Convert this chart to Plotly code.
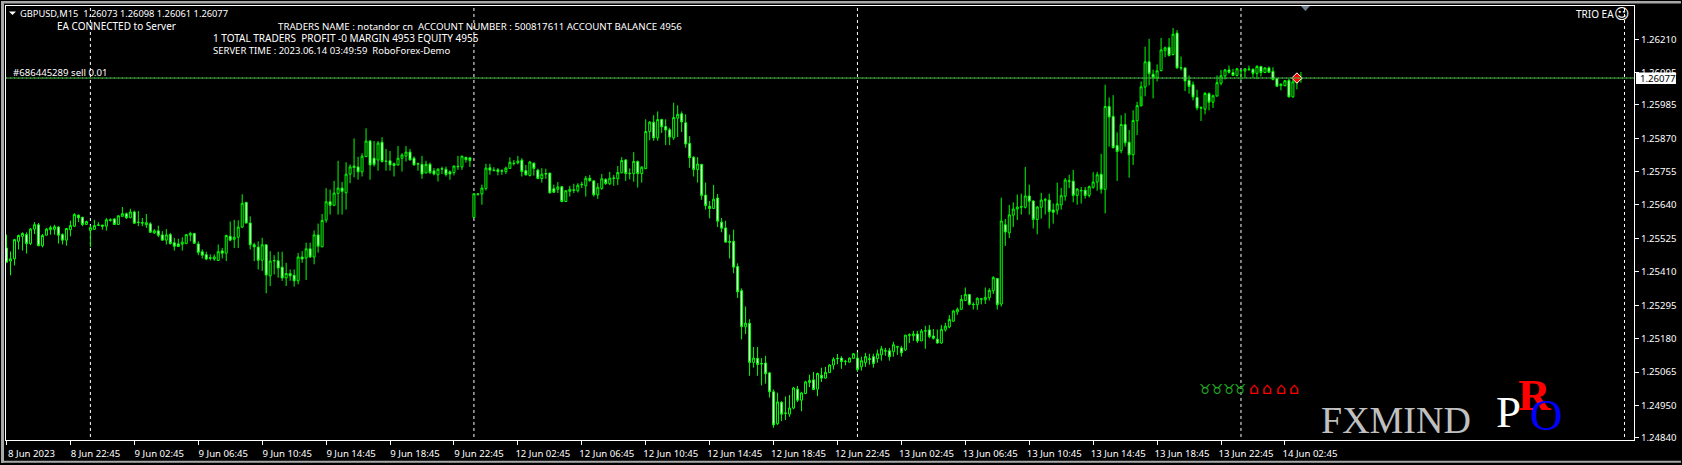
"""
GBPUSD M15 terminal chart
"""
import plotly.graph_objects as go

# prices in points (1.26077 -> 126077), one row = 10 bars
open_pts = [
    125492,125447,125455,125515,125532,125538,125507,125557,125572,125500,
    125536,125555,125556,125564,125538,125519,125555,125567,125605,125598,
    125573,125553,125556,125570,125571,125567,125587,125592,125573,125601,
    125610,125596,125616,125581,125579,125572,125575,125544,125551,125537,
    125519,125538,125510,125506,125505,125507,125536,125542,125506,125479,
    125469,125458,125454,125449,125482,125474,125532,125522,125529,125564,
    125649,125578,125503,125495,125450,125503,125396,125449,125448,125426,
    125389,125404,125398,125379,125461,125458,125489,125461,125537,125496,
    125588,125651,125639,125680,125698,125682,125746,125769,125771,125754,
    125807,125860,125801,125795,125856,125791,125792,125782,125778,125801,
    125809,125822,125801,125782,125780,125750,125780,125757,125744,125765,
    125763,125754,125752,125773,125771,125804,125802,125597,125678,125678,
    125697,125768,125760,125761,125758,125755,125766,125784,125785,125794,
    125758,125742,125784,125760,125731,125748,125750,125696,125694,125703,
    125652,125687,125692,125689,125711,125706,125732,125723,125675,125697,
    125728,125713,125733,125730,125751,125795,125749,125748,125790,125748,
    125765,125893,125925,125871,125934,125910,125899,125871,125939,125954,
    125923,125852,125804,125762,125780,125674,125636,125628,125664,125581,
    125561,125514,125515,125428,125345,125221,125233,125098,125112,125095,
    125096,125062,124997,124887,124961,124924,124920,124941,125006,124968,
    124991,125029,125038,125006,125054,125044,125063,125089,125112,125113,
    125102,125099,125112,125113,125083,125097,125111,125118,125111,125124,
    125138,125138,125135,125152,125148,125141,125193,125190,125196,125172,
    125207,125210,125189,125178,125165,125210,125220,125240,125272,125281,
    125311,125332,125298,125297,125317,125314,125321,125345,125387,125299,
    125572,125544,125605,125626,125634,125632,125671,125654,125590,125632,
    125658,125657,125623,125622,125640,125670,125723,125722,125673,125690,
    125691,125673,125701,125719,125746,125694,125979,125945,125845,125827,
    125917,125856,125813,125930,125981,126046,126133,126090,126078,126103,
    126171,126183,126158,126232,126113,126112,126069,126054,126010,125975,
    125970,126023,125994,126015,126059,126084,126105,126096,126086,126103,
    126101,126108,126107,126093,126117,126096,126112,126100,126075,126051,
    126051,126069,126012,126062,126073,
]
high_pts = [
    125538,125480,125523,125538,125546,125546,125561,125581,125578,125540,
    125561,125569,125572,125567,125542,125561,125586,125612,125607,125598,
    125586,125569,125589,125581,125571,125595,125594,125595,125603,125633,
    125614,125627,125621,125619,125595,125609,125581,125557,125569,125550,
    125557,125544,125527,125524,125529,125540,125548,125544,125515,125487,
    125479,125470,125470,125504,125492,125538,125583,125589,125587,125677,
    125649,125601,125510,125515,125527,125504,125481,125467,125479,125479,
    125441,125418,125418,125475,125481,125510,125510,125552,125576,125609,
    125698,125693,125723,125792,125719,125787,125780,125869,125806,125818,
    125904,125864,125860,125860,125873,125833,125826,125786,125843,125818,
    125843,125833,125807,125786,125809,125792,125786,125767,125767,125772,
    125772,125759,125776,125809,125810,125806,125806,125679,125681,125710,
    125782,125782,125770,125767,125763,125772,125804,125795,125809,125801,
    125778,125792,125786,125765,125767,125765,125750,125710,125719,125706,
    125691,125706,125713,125715,125720,125740,125743,125726,125715,125747,
    125732,125754,125743,125774,125805,125798,125766,125822,125793,125774,
    125935,125929,125949,125962,125937,125935,125906,125992,125983,125962,
    125952,125877,125808,125805,125780,125717,125654,125709,125678,125595,
    125586,125538,125555,125439,125353,125291,125247,125151,125151,125113,
    125121,125065,125005,124994,124965,124981,124986,125014,125017,124997,
    125035,125056,125065,125063,125080,125083,125092,125116,125127,125119,
    125107,125115,125130,125133,125118,125131,125128,125128,125142,125155,
    125148,125148,125169,125155,125155,125192,125198,125207,125207,125213,
    125224,125227,125213,125211,125227,125234,125261,125279,125287,125330,
    125356,125334,125305,125322,125319,125356,125353,125395,125387,125665,
    125592,125640,125649,125676,125679,125771,125710,125655,125636,125682,
    125665,125679,125645,125717,125699,125733,125744,125761,125698,125702,
    125702,125707,125753,125754,125816,126054,126010,126018,125890,125949,
    125956,125898,125966,125995,126065,126185,126212,126106,126124,126215,
    126185,126215,126249,126242,126151,126112,126086,126065,126037,125980,
    126029,126028,126020,126086,126105,126108,126120,126109,126112,126105,
    126111,126120,126111,126121,126119,126114,126117,126114,126078,126060,
    126069,126075,126071,126092,126098,
]
low_pts = [
    125443,125398,125432,125487,125483,125473,125502,125540,125498,125494,
    125536,125538,125538,125507,125504,125500,125532,125564,125581,125567,
    125572,125495,125555,125569,125555,125552,125583,125573,125573,125601,
    125592,125595,125576,125567,125567,125561,125544,125540,125529,125518,
    125504,125504,125483,125495,125483,125507,125515,125507,125467,125456,
    125450,125449,125448,125447,125456,125447,125515,125492,125492,125561,
    125576,125487,125447,125418,125413,125336,125361,125401,125390,125379,
    125361,125379,125359,125367,125441,125382,125458,125436,125476,125495,
    125579,125607,125636,125607,125607,125624,125715,125735,125727,125738,
    125804,125727,125772,125758,125786,125758,125758,125738,125776,125755,
    125790,125794,125776,125758,125730,125750,125746,125742,125721,125746,
    125738,125727,125742,125761,125761,125786,125771,125597,125672,125641,
    125690,125744,125755,125742,125744,125747,125766,125776,125780,125738,
    125741,125738,125741,125729,125717,125730,125679,125681,125681,125649,
    125650,125669,125681,125683,125698,125669,125720,125669,125661,125692,
    125709,125709,125706,125709,125749,125723,125728,125720,125700,125717,
    125764,125863,125861,125861,125888,125846,125846,125864,125874,125891,
    125837,125768,125738,125717,125658,125624,125594,125626,125564,125546,
    125512,125456,125405,125320,125177,125196,125052,125080,125052,125019,
    125025,124977,124873,124883,124896,124900,124911,124937,124962,124930,
    124989,125013,125003,124982,125031,125042,125062,125074,125092,125076,
    125088,125097,125111,125065,125070,125083,125090,125080,125097,125104,
    125121,125104,125118,125124,125118,125138,125165,125172,125165,125172,
    125145,125181,125177,125162,125162,125204,125216,125238,125262,125279,
    125310,125294,125280,125279,125298,125299,125311,125334,125280,125290,
    125499,125526,125564,125588,125607,125628,125607,125559,125539,125593,
    125607,125559,125576,125607,125624,125655,125698,125649,125641,125645,
    125662,125666,125696,125689,125679,125611,125841,125835,125723,125818,
    125841,125734,125778,125881,126014,126014,126052,126007,126065,126100,
    126149,126151,126155,126109,126103,126032,126023,126000,125966,125929,
    125952,125966,125974,126014,126052,126072,126092,126085,126082,126069,
    126078,126101,126078,126073,126082,126094,126095,126069,126046,126035,
    126048,126011,126010,126038,126061,
]
close_pts = [
    125443,125455,125521,125535,125542,125507,125557,125572,125500,125535,
    125557,125562,125565,125536,125519,125559,125569,125607,125596,125573,
    125583,125562,125569,125571,125567,125589,125589,125573,125603,125610,
    125596,125616,125577,125580,125578,125579,125546,125551,125536,125519,
    125537,125507,125498,125497,125512,125538,125542,125508,125477,125467,
    125454,125457,125461,125479,125474,125535,125519,125529,125564,125646,
    125578,125503,125496,125450,125503,125399,125447,125448,125423,125389,
    125404,125396,125379,125461,125454,125489,125461,125537,125498,125587,
    125651,125639,125681,125698,125687,125746,125771,125774,125754,125808,
    125860,125778,125780,125853,125790,125790,125778,125776,125801,125812,
    125822,125795,125778,125781,125747,125780,125752,125747,125763,125764,
    125745,125747,125774,125772,125808,125796,125793,125679,125677,125698,
    125767,125760,125759,125755,125757,125767,125787,125783,125791,125755,
    125744,125788,125766,125731,125746,125747,125682,125684,125702,125652,
    125689,125694,125691,125708,125710,125732,125724,125675,125701,125730,
    125714,125732,125732,125752,125793,125748,125748,125790,125748,125770,
    125893,125925,125871,125934,125909,125898,125874,125941,125952,125926,
    125850,125803,125762,125781,125673,125638,125628,125660,125584,125560,
    125512,125512,125426,125341,125221,125233,125098,125113,125091,125093,
    125059,124997,124883,124962,124920,124923,124941,125010,124968,124993,
    125031,125036,125005,125060,125044,125064,125089,125109,125111,125101,
    125101,125113,125128,125074,125104,125118,125108,125094,125128,125145,
    125137,125118,125159,125151,125131,125192,125192,125196,125172,125206,
    125206,125187,125181,125165,125212,125223,125246,125275,125281,125315,
    125332,125298,125297,125319,125316,125322,125346,125390,125297,125585,
    125547,125606,125626,125633,125633,125671,125653,125590,125633,125657,
    125657,125618,125615,125644,125672,125726,125722,125673,125695,125689,
    125673,125703,125719,125744,125694,125979,125943,125837,125824,125917,
    125854,125813,125931,125982,126047,126133,126092,126079,126102,126174,
    126181,126155,126228,126112,126112,126067,126048,126012,125974,125974,
    126024,125994,126016,126061,126085,126105,126097,126086,126109,126102,
    126109,126107,126093,126117,126096,126112,126097,126072,126049,126055,
    126068,126012,126064,126078,126077,
]

tick_bars = [0, 16, 32, 48, 64, 80, 96, 112, 128, 144, 160, 176, 192, 208, 224, 240, 256, 272, 288, 304, 320]
tick_labels = [
    "8 Jun 2023", "8 Jun 22:45", "9 Jun 02:45", "9 Jun 06:45", "9 Jun 10:45", "9 Jun 14:45", "9 Jun 18:45",
    "9 Jun 22:45", "12 Jun 02:45", "12 Jun 06:45", "12 Jun 10:45", "12 Jun 14:45", "12 Jun 18:45",
    "12 Jun 22:45", "13 Jun 02:45", "13 Jun 06:45", "13 Jun 10:45", "13 Jun 14:45", "13 Jun 18:45",
    "13 Jun 22:45", "14 Jun 02:45",
]
price_ticks = [1.26210, 1.26095, 1.25985, 1.25870, 1.25755, 1.25640, 1.25525,
               1.25410, 1.25295, 1.25180, 1.25065, 1.24950, 1.24840]
separator_bars = [21, 117, 213, 309, 405]
order_price = 1.26077
bars = list(range(len(open_pts)))

W, H = 1682, 465
ML, MR, MT, MB = 5, 47, 5, 23
PW, PH = W - ML - MR, H - MT - MB
TEXT_FONT = "Noto Sans"


def xp(px):
    return (px - ML) / PW


def yp(py):
    return 1 - (py - MT) / PH


def to_price(values):
    return [v / 100000 for v in values]


def label(text, px, py, color="white", size=9.6, family=TEXT_FONT, anchor="left"):
    return dict(text=text, x=xp(px), y=yp(py), xref="paper", yref="paper", showarrow=False,
                xanchor=anchor, yanchor="middle", align="left", borderpad=0,
                font=dict(color=color, size=size, family=family))


def band(x0, y0, x1, y1, color):
    return dict(type="rect", xref="paper", yref="paper", x0=xp(x0), x1=xp(x1), y0=yp(y0), y1=yp(y1),
                fillcolor=color, line=dict(width=0), layer="above")


fig = go.Figure()

fig.add_trace(go.Candlestick(
    x=bars,
    open=to_price(open_pts),
    high=to_price(high_pts),
    low=to_price(low_pts),
    close=to_price(close_pts),
    whiskerwidth=0,
    increasing=dict(line=dict(color="#00ff00", width=1), fillcolor="#000000"),
    decreasing=dict(line=dict(color="#00ff00", width=1), fillcolor="#ffffff"),
    showlegend=False,
    hoverinfo="skip",
))

# last close marker
fig.add_trace(go.Scatter(
    x=[bars[-2]], y=[order_price], mode="markers", showlegend=False, hoverinfo="skip",
    marker=dict(symbol="diamond", size=8, color="#ff0000", line=dict(color="white", width=1)),
))

shapes = []
for b in separator_bars:
    shapes.append(dict(type="line", xref="x", yref="paper", x0=b, x1=b, y0=0.007, y1=1, layer="below",
                       line=dict(color="white", width=1, dash="3px,3px")))
shapes.append(dict(type="line", xref="paper", yref="y", x0=0, x1=1, y0=order_price, y1=order_price,
                   line=dict(color="#2fc02f", width=1), layer="above"))
shapes.append(dict(type="line", xref="paper", yref="y", x0=0, x1=1, y0=order_price, y1=order_price,
                   line=dict(color="#8a8a9a", width=1, dash="1px,3px"), layer="above"))
shapes.append(band(0, 0, W, 2.5, "#a8a8a8"))
shapes.append(band(0, 0, 3, H, "#a8a8a8"))
shapes.append(band(0, 463, W, H, "#a8a8a8"))
# price tag behind the text
shapes.append(band(1637, 72, 1677, 83.5, "#ffffff"))
# shift marker on top, header triangle
shapes.append(dict(type="path", xref="paper", yref="paper", fillcolor="#708090", line=dict(width=0),
                   path=f"M {xp(1301.5)} {yp(5)} L {xp(1310.5)} {yp(5)} L {xp(1306)} {yp(10)} Z"))
shapes.append(dict(type="path", xref="paper", yref="paper", fillcolor="#ffffff", line=dict(width=0),
                   path=f"M {xp(8)} {yp(10.5)} L {xp(15)} {yp(10.5)} L {xp(11.5)} {yp(14)} Z"))

annotations = [
    label("GBPUSD,M15  1.26073 1.26098 1.26061 1.26077", 18.5, 12.5, size=9.3),
    label("EA CONNECTED to Server", 55, 25.5, size=10),
    label("TRADERS NAME : notandor cn  ACCOUNT NUMBER : 500817611 ACCOUNT BALANCE 4956", 276, 25.5, size=9.7),
    label("1 TOTAL TRADERS  PROFIT -0 MARGIN 4953 EQUITY 4955", 211.5, 37.5, size=10),
    label("SERVER TIME : 2023.06.14 03:49:59  RoboForex-Demo", 211.5, 49.5, size=9.5),
    label("#686445289 sell 0.01", 11, 71.5, size=9.6),
    label("TRIO EA", 1576, 13.5, size=10),
    label("☺", 1623, 13, size=15, family="DejaVu Sans", anchor="center"),
    label("1.26077", 1640, 77.5, color="#000000", size=9.6),
    label("FXMIND", 1321, 422, color="#c0c0c0", size=38, family="Liberation Serif"),
    label("P", 1496, 414, size=45, family="Liberation Serif"),
    label("<b>R</b>", 1518, 397, color="#ff0000", size=45, family="Liberation Serif"),
    label("O", 1530, 417, color="#0000ff", size=45, family="Liberation Serif"),
]
for px in [1206, 1218, 1230, 1241.5]:
    annotations.append(label("♉", px, 391, color="#22aa22", size=14, family="DejaVu Sans", anchor="center"))
for px in [1255, 1268, 1282, 1295]:
    annotations.append(label("⌂", px, 390, color="#ff0000", size=16, family="DejaVu Sans", anchor="center"))

fig.update_layout(
    width=W,
    height=H,
    autosize=False,
    margin=dict(l=ML, r=MR, t=MT, b=MB, pad=0),
    paper_bgcolor="#000000",
    plot_bgcolor="#000000",
    showlegend=False,
    boxgap=0.5,
    boxgroupgap=0,
    shapes=shapes,
    annotations=annotations,
    xaxis=dict(
        range=[-0.125, 407.375],
        rangeslider=dict(visible=False),
        tickmode="array",
        tickvals=tick_bars,
        ticktext=tick_labels,
        ticks="outside",
        ticklen=4,
        tickcolor="white",
        ticklabelshift=25,
        tickangle=0,
        tickfont=dict(color="white", size=9.6, family=TEXT_FONT),
        showgrid=False,
        zeroline=False,
        showline=True,
        linecolor="white",
        linewidth=1,
        mirror=True,
    ),
    yaxis=dict(
        range=[1.24831, 1.26325],
        side="right",
        tickmode="array",
        tickvals=price_ticks,
        ticktext=[f"{p:.5f}" for p in price_ticks],
        ticks="outside",
        ticklen=4,
        tickcolor="white",
        tickfont=dict(color="white", size=9.6, family=TEXT_FONT),
        showgrid=False,
        zeroline=False,
        showline=True,
        linecolor="white",
        linewidth=1,
        mirror=True,
    ),
)

fig.write_html("out.html", config={"displayModeBar": False},
               post_script="document.body.style.margin='0';document.body.style.overflow='hidden';")
